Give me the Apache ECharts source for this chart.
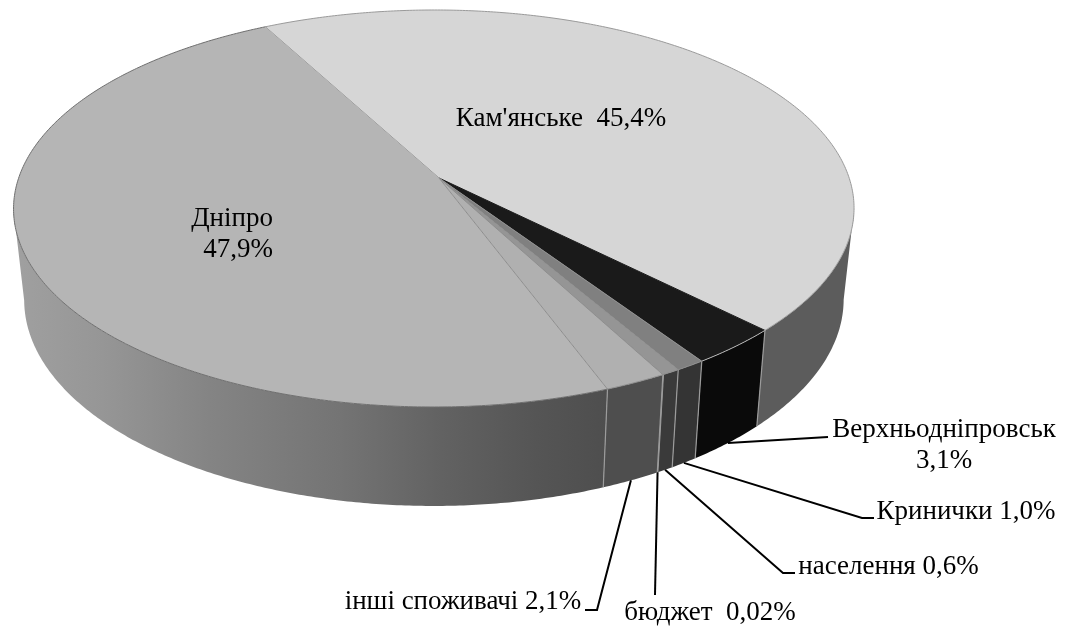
<!DOCTYPE html>
<html>
<head>
<meta charset="utf-8">
<title>pie</title>
<script src="https://cdn.jsdelivr.net/npm/echarts@6/dist/echarts.min.js"></script>
<style>
html, body { margin: 0; padding: 0; background: #fff; }
#chart { width: 1066px; height: 626px; }
</style>
</head>
<body>
<div id="chart"></div>
<script>
// clockwise from Кам'янське
var categories = ["Кам'янське", 'Верхньодніпровськ', 'Кринички', 'населення', 'бюджет', 'інші споживачі', 'Дніпро'];
var values = [45.4, 3.1, 1.0, 0.6, 0.02, 2.1, 47.9];
var valueLabels = ['45,4%', '3,1%', '1,0%', '0,6%', '0,02%', '2,1%', '47,9%'];

var topColors = ['#d6d6d6', '#1a1a1a', '#808080', '#959595', '#959595', '#b0b0b0', '#b5b5b5'];
var sideColors = ['#5c5c5c', '#0a0a0a', '#343434', '#3a3a3a', '#3a3a3a', '#4e4e4e', '#808080'];
var rimColors = ['#9a9a9a', '#b8b8b8', '#8a8a8a', '#8a8a8a', '#8a8a8a', '#8a8a8a', '#6f6f6f'];

// perspective of the disc: apex, radii and tilt
var apexX = 439, apexY = 178;
var radX = 415.2, radY = 193.8, tiltV = 0.1536, tiltU = 0.01225;
var bottomScaleX = 0.975, bottomScaleY = 1.04, bottomDrop = 89.8;
var startAngle = -28.2;
var sideFrom = 99, sideTo = 261;

var total = values.reduce(function (a, b) { return a + b; }, 0);

function sliceAngles(i) {
    var a = startAngle;
    for (var j = 0; j < i; j++) {
        a += values[j] / total * 360;
    }
    return [a, a + values[i] / total * 360];
}

function project(deg, level) {
    var t = deg * Math.PI / 180;
    var u = Math.sin(t), v = Math.cos(t);
    var w = 1 + tiltV * v + tiltU * u;
    var x = radX * u / w, y = radY * v / w;
    if (level) {
        return [apexX + x * bottomScaleX, apexY + bottomDrop - y * bottomScaleY];
    }
    return [apexX + x, apexY - y];
}

function arcPoints(a0, a1, level) {
    var pts = [];
    var n = Math.max(1, Math.ceil((a1 - a0) / 0.5));
    for (var i = 0; i <= n; i++) {
        pts.push(project(a0 + (a1 - a0) * i / n, level));
    }
    return pts;
}

function renderSide(params, api) {
    var i = api.value(0);
    var ang = sliceAngles(i);
    var a0 = Math.max(ang[0], sideFrom), a1 = Math.min(ang[1], sideTo);
    if (a1 <= a0) {
        return { type: 'group', children: [] };
    }
    var pts = arcPoints(a0, a1, 0).concat(arcPoints(a0, a1, 1).reverse());
    var fill = sideColors[i];
    if (i === values.length - 1) {
        fill = new echarts.graphic.LinearGradient(0, 0, 1, 0, [
            { offset: 0, color: '#a0a0a0' },
            { offset: 0.15, color: '#969696' },
            { offset: 0.33, color: '#848484' },
            { offset: 0.55, color: '#747474' },
            { offset: 0.72, color: '#626262' },
            { offset: 0.88, color: '#555555' },
            { offset: 1, color: '#4e4e4e' }
        ]);
    }
    var kids = [{ type: 'polygon', shape: { points: pts }, style: { fill: fill } }];
    if (ang[0] >= sideFrom) {
        kids.push({
            type: 'line',
            shape: {
                x1: project(ang[0], 0)[0], y1: project(ang[0], 0)[1],
                x2: project(ang[0], 1)[0], y2: project(ang[0], 1)[1]
            },
            style: { stroke: '#9c9c9c', lineWidth: 1.2 }
        });
    }
    return { type: 'group', children: kids };
}

function renderTop(params, api) {
    var i = api.value(0);
    var ang = sliceAngles(i);
    var arc = arcPoints(ang[0], ang[1], 0);
    var o = project(ang[0], 0);
    return {
        type: 'group',
        children: [
            { type: 'polygon', shape: { points: [[apexX, apexY]].concat(arc) }, style: { fill: topColors[i] } },
            {
                type: 'line',
                shape: { x1: apexX, y1: apexY, x2: o[0], y2: o[1] },
                style: { stroke: i === 1 ? '#1a1a1a' : '#8e8e8e', lineWidth: 1 }
            },
            { type: 'polyline', shape: { points: arc }, style: { fill: null, stroke: rimColors[i], lineWidth: 1 } }
        ]
    };
}

// label places and elbows, same order as categories
var labelText = [
    categories[0] + '  ' + valueLabels[0],
    categories[1] + '\n' + valueLabels[1],
    categories[2] + ' ' + valueLabels[2],
    categories[3] + ' ' + valueLabels[3],
    categories[4] + '  ' + valueLabels[4],
    categories[5] + ' ' + valueLabels[5],
    categories[6] + '\n' + valueLabels[6]
];
var labelX = [561, 944, 966, 888.5, 710, 463, 273];
var labelY = [119, 445, 512, 567, 613, 602, 234];
var labelAlign = ['center', 'center', 'center', 'center', 'center', 'center', 'right'];
var elbows = [
    null,
    [[828, 437]],
    [[862, 518], [874, 518]],
    [[783, 573], [795, 573]],
    [[655, 595]],
    [[597, 610], [585, 610]],
    null
];

function renderLabel(params, api) {
    var i = api.value(0);
    var ang = sliceAngles(i);
    var kids = [{
        type: 'text',
        style: {
            x: labelX[i], y: labelY[i], text: labelText[i],
            font: '27px "Liberation Serif"', fill: '#000',
            align: labelAlign[i], verticalAlign: 'middle', lineHeight: 31
        }
    }];
    if (elbows[i]) {
        kids.push({
            type: 'polyline',
            shape: { points: [project((ang[0] + ang[1]) / 2, 1)].concat(elbows[i]) },
            style: { fill: null, stroke: '#000', lineWidth: 2 }
        });
    }
    return { type: 'group', children: kids };
}

var rows = categories.map(function (name, i) { return [i, values[i]]; });

var option = {
    animation: false,
    backgroundColor: '#fff',
    series: [
        { type: 'custom', coordinateSystem: 'none', z: 1, silent: true, renderItem: renderSide, data: rows },
        { type: 'custom', coordinateSystem: 'none', z: 2, silent: true, renderItem: renderTop, data: rows },
        { type: 'custom', coordinateSystem: 'none', z: 3, silent: true, renderItem: renderLabel, data: rows }
    ]
};

var myChart = echarts.init(document.getElementById('chart'));
myChart.setOption(option);
</script>
</body>
</html>
